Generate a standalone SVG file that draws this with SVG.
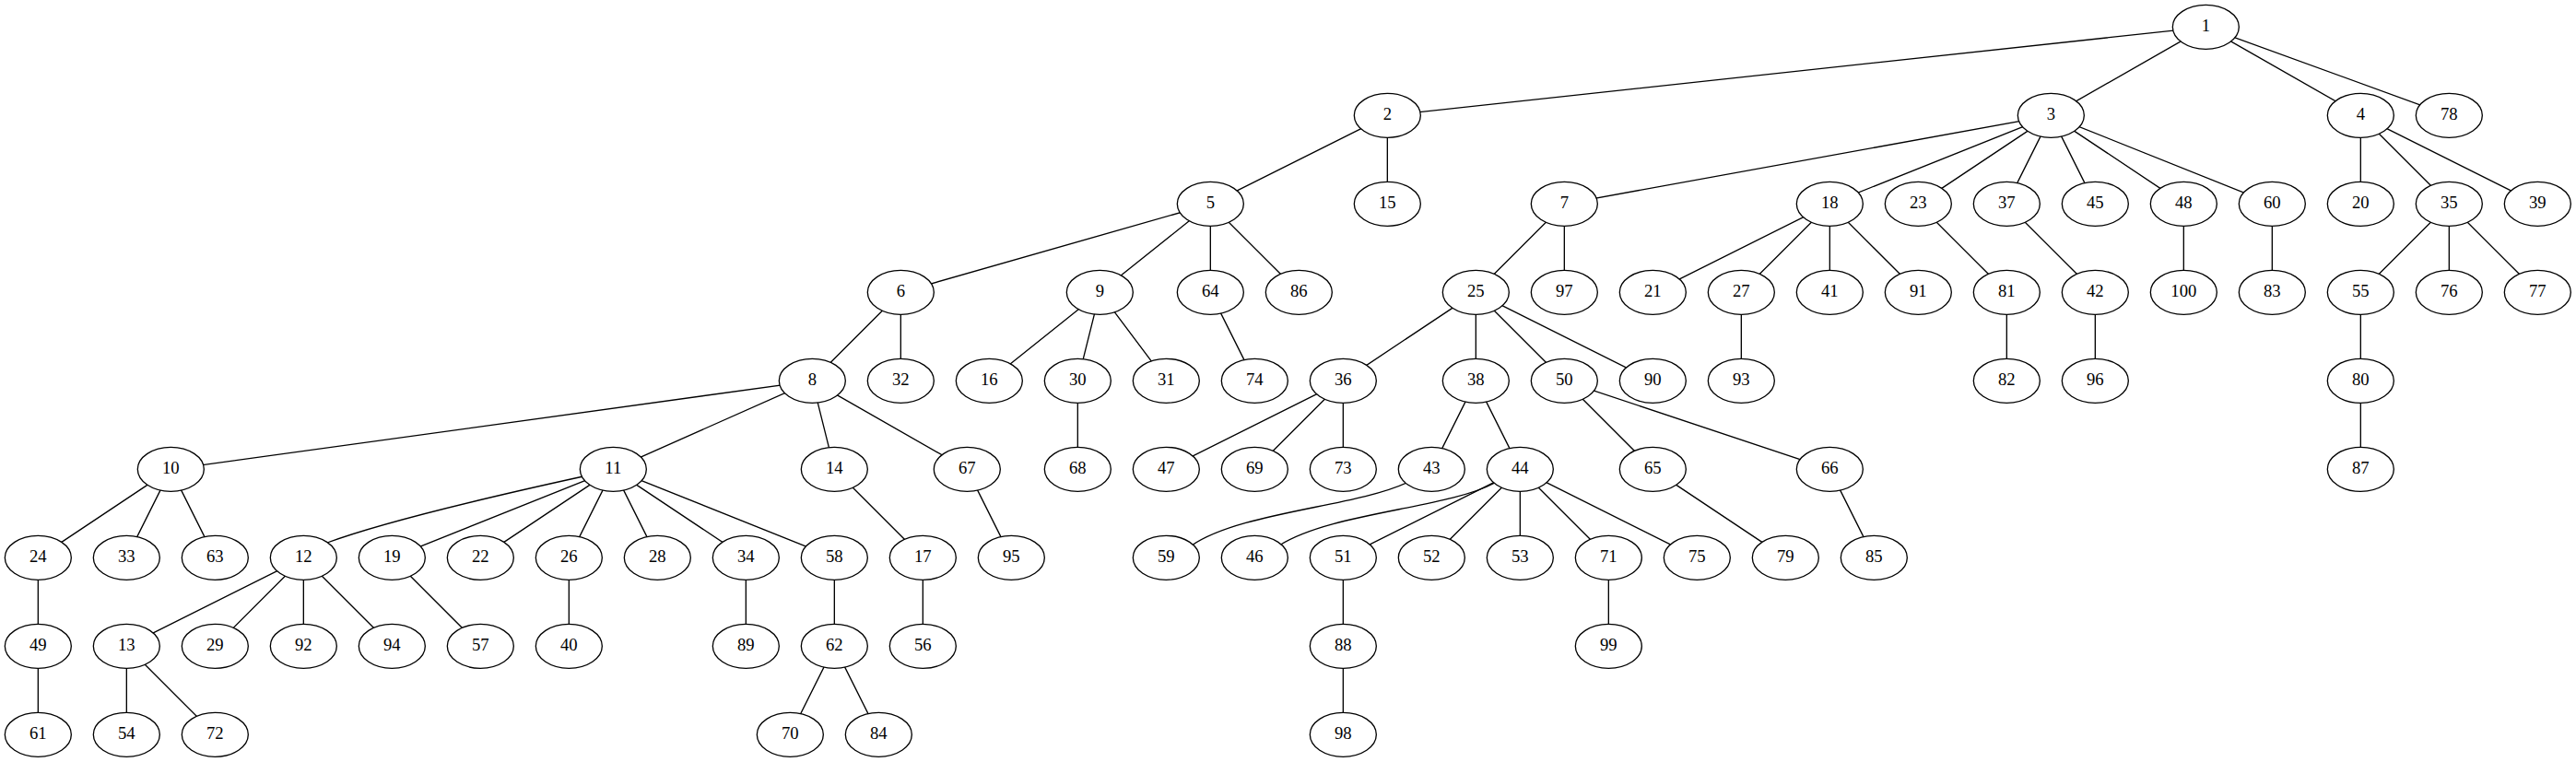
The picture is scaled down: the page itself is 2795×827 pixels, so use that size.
<svg xmlns="http://www.w3.org/2000/svg" width="2795" height="827" viewBox="0 0 2795 827">
<style>
.n ellipse{fill:#fff;stroke:#000;stroke-width:1.33}
.n text{font-family:"Liberation Serif","Times New Roman",serif;font-size:18.67px;text-anchor:middle;fill:#000}
#edges path{fill:none;stroke:#000;stroke-width:1.33}
</style>
<rect x="0" y="0" width="2795" height="827" fill="#fff"/>
<g id="edges">
<path d="M2393.33,29.33L1505.33,125.33M2393.33,29.33L2225.33,125.33M2393.33,29.33L2561.33,125.33M2393.33,29.33L2657.33,125.33"/>
<path d="M1505.33,125.33L1313.33,221.33M1505.33,125.33L1505.33,221.33"/>
<path d="M2225.33,125.33L1697.33,221.33M2225.33,125.33L1985.33,221.33M2225.33,125.33L2081.33,221.33M2225.33,125.33L2177.33,221.33M2225.33,125.33L2273.33,221.33M2225.33,125.33L2369.33,221.33M2225.33,125.33L2465.33,221.33"/>
<path d="M2561.33,125.33L2561.33,221.33M2561.33,125.33L2657.33,221.33M2561.33,125.33L2753.33,221.33"/>
<path d="M1313.33,221.33L977.33,317.33M1313.33,221.33L1193.33,317.33M1313.33,221.33L1313.33,317.33M1313.33,221.33L1409.33,317.33"/>
<path d="M1697.33,221.33L1601.33,317.33M1697.33,221.33L1697.33,317.33"/>
<path d="M1985.33,221.33L1793.33,317.33M1985.33,221.33L1889.33,317.33M1985.33,221.33L1985.33,317.33M1985.33,221.33L2081.33,317.33"/>
<path d="M2081.33,221.33L2177.33,317.33M2177.33,221.33L2273.33,317.33M2369.33,221.33L2369.33,317.33M2465.33,221.33L2465.33,317.33"/>
<path d="M2657.33,221.33L2561.33,317.33M2657.33,221.33L2657.33,317.33M2657.33,221.33L2753.33,317.33"/>
<path d="M977.33,317.33L881.33,413.33M977.33,317.33L977.33,413.33"/>
<path d="M1193.33,317.33L1073.33,413.33M1193.33,317.33L1169.33,413.33M1193.33,317.33L1265.33,413.33M1313.33,317.33L1361.33,413.33"/>
<path d="M1601.33,317.33L1457.33,413.33M1601.33,317.33L1601.33,413.33M1601.33,317.33L1697.33,413.33M1601.33,317.33L1793.33,413.33"/>
<path d="M1889.33,317.33L1889.33,413.33M2177.33,317.33L2177.33,413.33M2273.33,317.33L2273.33,413.33M2561.33,317.33L2561.33,413.33"/>
<path d="M881.33,413.33L185.33,509.33M881.33,413.33L665.33,509.33M881.33,413.33L905.33,509.33M881.33,413.33L1049.33,509.33"/>
<path d="M1169.33,413.33L1169.33,509.33"/>
<path d="M1457.33,413.33L1265.33,509.33M1457.33,413.33L1361.33,509.33M1457.33,413.33L1457.33,509.33"/>
<path d="M1601.33,413.33L1553.33,509.33M1601.33,413.33L1649.33,509.33"/>
<path d="M1697.33,413.33L1793.33,509.33M1697.33,413.33L1985.33,509.33"/>
<path d="M2561.33,413.33L2561.33,509.33"/>
<path d="M185.33,509.33L41.33,605.33M185.33,509.33L137.33,605.33M185.33,509.33L233.33,605.33"/>
<path d="M633,517C560,533 420,565 355,589"/>
<path d="M665.33,509.33L425.33,605.33M665.33,509.33L521.33,605.33M665.33,509.33L617.33,605.33M665.33,509.33L713.33,605.33M665.33,509.33L809.33,605.33M665.33,509.33L905.33,605.33"/>
<path d="M905.33,509.33L1001.33,605.33M1049.33,509.33L1097.33,605.33"/>
<path d="M1526,524C1470,550 1345,556 1293,592"/>
<path d="M1622,524C1570,552 1445,556 1388,592"/>
<path d="M1649.33,509.33L1457.33,605.33M1649.33,509.33L1553.33,605.33M1649.33,509.33L1649.33,605.33M1649.33,509.33L1745.33,605.33M1649.33,509.33L1841.33,605.33"/>
<path d="M1793.33,509.33L1937.33,605.33M1985.33,509.33L2033.33,605.33"/>
<path d="M41.33,605.33L41.33,701.33"/>
<path d="M329.33,605.33L137.33,701.33M329.33,605.33L233.33,701.33M329.33,605.33L329.33,701.33M329.33,605.33L425.33,701.33"/>
<path d="M425.33,605.33L521.33,701.33M617.33,605.33L617.33,701.33M809.33,605.33L809.33,701.33M905.33,605.33L905.33,701.33M1001.33,605.33L1001.33,701.33"/>
<path d="M1457.33,605.33L1457.33,701.33M1745.33,605.33L1745.33,701.33"/>
<path d="M41.33,701.33L41.33,797.33M137.33,701.33L137.33,797.33M137.33,701.33L233.33,797.33"/>
<path d="M905.33,701.33L857.33,797.33M905.33,701.33L953.33,797.33M1457.33,701.33L1457.33,797.33"/>
</g>
<g id="n1" class="n" transform="translate(2393.33,29.33)"><ellipse rx="36" ry="24"/><text y="5">1</text></g>
<g id="n2" class="n" transform="translate(1505.33,125.33)"><ellipse rx="36" ry="24"/><text y="5">2</text></g>
<g id="n3" class="n" transform="translate(2225.33,125.33)"><ellipse rx="36" ry="24"/><text y="5">3</text></g>
<g id="n4" class="n" transform="translate(2561.33,125.33)"><ellipse rx="36" ry="24"/><text y="5">4</text></g>
<g id="n78" class="n" transform="translate(2657.33,125.33)"><ellipse rx="36" ry="24"/><text y="5">78</text></g>
<g id="n5" class="n" transform="translate(1313.33,221.33)"><ellipse rx="36" ry="24"/><text y="5">5</text></g>
<g id="n15" class="n" transform="translate(1505.33,221.33)"><ellipse rx="36" ry="24"/><text y="5">15</text></g>
<g id="n7" class="n" transform="translate(1697.33,221.33)"><ellipse rx="36" ry="24"/><text y="5">7</text></g>
<g id="n18" class="n" transform="translate(1985.33,221.33)"><ellipse rx="36" ry="24"/><text y="5">18</text></g>
<g id="n23" class="n" transform="translate(2081.33,221.33)"><ellipse rx="36" ry="24"/><text y="5">23</text></g>
<g id="n37" class="n" transform="translate(2177.33,221.33)"><ellipse rx="36" ry="24"/><text y="5">37</text></g>
<g id="n45" class="n" transform="translate(2273.33,221.33)"><ellipse rx="36" ry="24"/><text y="5">45</text></g>
<g id="n48" class="n" transform="translate(2369.33,221.33)"><ellipse rx="36" ry="24"/><text y="5">48</text></g>
<g id="n60" class="n" transform="translate(2465.33,221.33)"><ellipse rx="36" ry="24"/><text y="5">60</text></g>
<g id="n20" class="n" transform="translate(2561.33,221.33)"><ellipse rx="36" ry="24"/><text y="5">20</text></g>
<g id="n35" class="n" transform="translate(2657.33,221.33)"><ellipse rx="36" ry="24"/><text y="5">35</text></g>
<g id="n39" class="n" transform="translate(2753.33,221.33)"><ellipse rx="36" ry="24"/><text y="5">39</text></g>
<g id="n6" class="n" transform="translate(977.33,317.33)"><ellipse rx="36" ry="24"/><text y="5">6</text></g>
<g id="n9" class="n" transform="translate(1193.33,317.33)"><ellipse rx="36" ry="24"/><text y="5">9</text></g>
<g id="n64" class="n" transform="translate(1313.33,317.33)"><ellipse rx="36" ry="24"/><text y="5">64</text></g>
<g id="n86" class="n" transform="translate(1409.33,317.33)"><ellipse rx="36" ry="24"/><text y="5">86</text></g>
<g id="n25" class="n" transform="translate(1601.33,317.33)"><ellipse rx="36" ry="24"/><text y="5">25</text></g>
<g id="n97" class="n" transform="translate(1697.33,317.33)"><ellipse rx="36" ry="24"/><text y="5">97</text></g>
<g id="n21" class="n" transform="translate(1793.33,317.33)"><ellipse rx="36" ry="24"/><text y="5">21</text></g>
<g id="n27" class="n" transform="translate(1889.33,317.33)"><ellipse rx="36" ry="24"/><text y="5">27</text></g>
<g id="n41" class="n" transform="translate(1985.33,317.33)"><ellipse rx="36" ry="24"/><text y="5">41</text></g>
<g id="n91" class="n" transform="translate(2081.33,317.33)"><ellipse rx="36" ry="24"/><text y="5">91</text></g>
<g id="n81" class="n" transform="translate(2177.33,317.33)"><ellipse rx="36" ry="24"/><text y="5">81</text></g>
<g id="n42" class="n" transform="translate(2273.33,317.33)"><ellipse rx="36" ry="24"/><text y="5">42</text></g>
<g id="n100" class="n" transform="translate(2369.33,317.33)"><ellipse rx="36" ry="24"/><text y="5">100</text></g>
<g id="n83" class="n" transform="translate(2465.33,317.33)"><ellipse rx="36" ry="24"/><text y="5">83</text></g>
<g id="n55" class="n" transform="translate(2561.33,317.33)"><ellipse rx="36" ry="24"/><text y="5">55</text></g>
<g id="n76" class="n" transform="translate(2657.33,317.33)"><ellipse rx="36" ry="24"/><text y="5">76</text></g>
<g id="n77" class="n" transform="translate(2753.33,317.33)"><ellipse rx="36" ry="24"/><text y="5">77</text></g>
<g id="n8" class="n" transform="translate(881.33,413.33)"><ellipse rx="36" ry="24"/><text y="5">8</text></g>
<g id="n32" class="n" transform="translate(977.33,413.33)"><ellipse rx="36" ry="24"/><text y="5">32</text></g>
<g id="n16" class="n" transform="translate(1073.33,413.33)"><ellipse rx="36" ry="24"/><text y="5">16</text></g>
<g id="n30" class="n" transform="translate(1169.33,413.33)"><ellipse rx="36" ry="24"/><text y="5">30</text></g>
<g id="n31" class="n" transform="translate(1265.33,413.33)"><ellipse rx="36" ry="24"/><text y="5">31</text></g>
<g id="n74" class="n" transform="translate(1361.33,413.33)"><ellipse rx="36" ry="24"/><text y="5">74</text></g>
<g id="n36" class="n" transform="translate(1457.33,413.33)"><ellipse rx="36" ry="24"/><text y="5">36</text></g>
<g id="n38" class="n" transform="translate(1601.33,413.33)"><ellipse rx="36" ry="24"/><text y="5">38</text></g>
<g id="n50" class="n" transform="translate(1697.33,413.33)"><ellipse rx="36" ry="24"/><text y="5">50</text></g>
<g id="n90" class="n" transform="translate(1793.33,413.33)"><ellipse rx="36" ry="24"/><text y="5">90</text></g>
<g id="n93" class="n" transform="translate(1889.33,413.33)"><ellipse rx="36" ry="24"/><text y="5">93</text></g>
<g id="n82" class="n" transform="translate(2177.33,413.33)"><ellipse rx="36" ry="24"/><text y="5">82</text></g>
<g id="n96" class="n" transform="translate(2273.33,413.33)"><ellipse rx="36" ry="24"/><text y="5">96</text></g>
<g id="n80" class="n" transform="translate(2561.33,413.33)"><ellipse rx="36" ry="24"/><text y="5">80</text></g>
<g id="n10" class="n" transform="translate(185.33,509.33)"><ellipse rx="36" ry="24"/><text y="5">10</text></g>
<g id="n11" class="n" transform="translate(665.33,509.33)"><ellipse rx="36" ry="24"/><text y="5">11</text></g>
<g id="n14" class="n" transform="translate(905.33,509.33)"><ellipse rx="36" ry="24"/><text y="5">14</text></g>
<g id="n67" class="n" transform="translate(1049.33,509.33)"><ellipse rx="36" ry="24"/><text y="5">67</text></g>
<g id="n68" class="n" transform="translate(1169.33,509.33)"><ellipse rx="36" ry="24"/><text y="5">68</text></g>
<g id="n47" class="n" transform="translate(1265.33,509.33)"><ellipse rx="36" ry="24"/><text y="5">47</text></g>
<g id="n69" class="n" transform="translate(1361.33,509.33)"><ellipse rx="36" ry="24"/><text y="5">69</text></g>
<g id="n73" class="n" transform="translate(1457.33,509.33)"><ellipse rx="36" ry="24"/><text y="5">73</text></g>
<g id="n43" class="n" transform="translate(1553.33,509.33)"><ellipse rx="36" ry="24"/><text y="5">43</text></g>
<g id="n44" class="n" transform="translate(1649.33,509.33)"><ellipse rx="36" ry="24"/><text y="5">44</text></g>
<g id="n65" class="n" transform="translate(1793.33,509.33)"><ellipse rx="36" ry="24"/><text y="5">65</text></g>
<g id="n66" class="n" transform="translate(1985.33,509.33)"><ellipse rx="36" ry="24"/><text y="5">66</text></g>
<g id="n87" class="n" transform="translate(2561.33,509.33)"><ellipse rx="36" ry="24"/><text y="5">87</text></g>
<g id="n24" class="n" transform="translate(41.33,605.33)"><ellipse rx="36" ry="24"/><text y="5">24</text></g>
<g id="n33" class="n" transform="translate(137.33,605.33)"><ellipse rx="36" ry="24"/><text y="5">33</text></g>
<g id="n63" class="n" transform="translate(233.33,605.33)"><ellipse rx="36" ry="24"/><text y="5">63</text></g>
<g id="n12" class="n" transform="translate(329.33,605.33)"><ellipse rx="36" ry="24"/><text y="5">12</text></g>
<g id="n19" class="n" transform="translate(425.33,605.33)"><ellipse rx="36" ry="24"/><text y="5">19</text></g>
<g id="n22" class="n" transform="translate(521.33,605.33)"><ellipse rx="36" ry="24"/><text y="5">22</text></g>
<g id="n26" class="n" transform="translate(617.33,605.33)"><ellipse rx="36" ry="24"/><text y="5">26</text></g>
<g id="n28" class="n" transform="translate(713.33,605.33)"><ellipse rx="36" ry="24"/><text y="5">28</text></g>
<g id="n34" class="n" transform="translate(809.33,605.33)"><ellipse rx="36" ry="24"/><text y="5">34</text></g>
<g id="n58" class="n" transform="translate(905.33,605.33)"><ellipse rx="36" ry="24"/><text y="5">58</text></g>
<g id="n17" class="n" transform="translate(1001.33,605.33)"><ellipse rx="36" ry="24"/><text y="5">17</text></g>
<g id="n95" class="n" transform="translate(1097.33,605.33)"><ellipse rx="36" ry="24"/><text y="5">95</text></g>
<g id="n59" class="n" transform="translate(1265.33,605.33)"><ellipse rx="36" ry="24"/><text y="5">59</text></g>
<g id="n46" class="n" transform="translate(1361.33,605.33)"><ellipse rx="36" ry="24"/><text y="5">46</text></g>
<g id="n51" class="n" transform="translate(1457.33,605.33)"><ellipse rx="36" ry="24"/><text y="5">51</text></g>
<g id="n52" class="n" transform="translate(1553.33,605.33)"><ellipse rx="36" ry="24"/><text y="5">52</text></g>
<g id="n53" class="n" transform="translate(1649.33,605.33)"><ellipse rx="36" ry="24"/><text y="5">53</text></g>
<g id="n71" class="n" transform="translate(1745.33,605.33)"><ellipse rx="36" ry="24"/><text y="5">71</text></g>
<g id="n75" class="n" transform="translate(1841.33,605.33)"><ellipse rx="36" ry="24"/><text y="5">75</text></g>
<g id="n79" class="n" transform="translate(1937.33,605.33)"><ellipse rx="36" ry="24"/><text y="5">79</text></g>
<g id="n85" class="n" transform="translate(2033.33,605.33)"><ellipse rx="36" ry="24"/><text y="5">85</text></g>
<g id="n49" class="n" transform="translate(41.33,701.33)"><ellipse rx="36" ry="24"/><text y="5">49</text></g>
<g id="n13" class="n" transform="translate(137.33,701.33)"><ellipse rx="36" ry="24"/><text y="5">13</text></g>
<g id="n29" class="n" transform="translate(233.33,701.33)"><ellipse rx="36" ry="24"/><text y="5">29</text></g>
<g id="n92" class="n" transform="translate(329.33,701.33)"><ellipse rx="36" ry="24"/><text y="5">92</text></g>
<g id="n94" class="n" transform="translate(425.33,701.33)"><ellipse rx="36" ry="24"/><text y="5">94</text></g>
<g id="n57" class="n" transform="translate(521.33,701.33)"><ellipse rx="36" ry="24"/><text y="5">57</text></g>
<g id="n40" class="n" transform="translate(617.33,701.33)"><ellipse rx="36" ry="24"/><text y="5">40</text></g>
<g id="n89" class="n" transform="translate(809.33,701.33)"><ellipse rx="36" ry="24"/><text y="5">89</text></g>
<g id="n62" class="n" transform="translate(905.33,701.33)"><ellipse rx="36" ry="24"/><text y="5">62</text></g>
<g id="n56" class="n" transform="translate(1001.33,701.33)"><ellipse rx="36" ry="24"/><text y="5">56</text></g>
<g id="n88" class="n" transform="translate(1457.33,701.33)"><ellipse rx="36" ry="24"/><text y="5">88</text></g>
<g id="n99" class="n" transform="translate(1745.33,701.33)"><ellipse rx="36" ry="24"/><text y="5">99</text></g>
<g id="n61" class="n" transform="translate(41.33,797.33)"><ellipse rx="36" ry="24"/><text y="5">61</text></g>
<g id="n54" class="n" transform="translate(137.33,797.33)"><ellipse rx="36" ry="24"/><text y="5">54</text></g>
<g id="n72" class="n" transform="translate(233.33,797.33)"><ellipse rx="36" ry="24"/><text y="5">72</text></g>
<g id="n70" class="n" transform="translate(857.33,797.33)"><ellipse rx="36" ry="24"/><text y="5">70</text></g>
<g id="n84" class="n" transform="translate(953.33,797.33)"><ellipse rx="36" ry="24"/><text y="5">84</text></g>
<g id="n98" class="n" transform="translate(1457.33,797.33)"><ellipse rx="36" ry="24"/><text y="5">98</text></g>
</svg>
